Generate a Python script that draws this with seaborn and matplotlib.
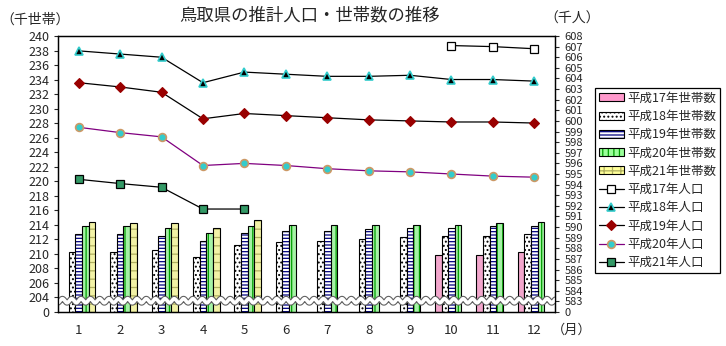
import numpy as np
import pandas as pd
import matplotlib
matplotlib.use("Agg")
import matplotlib.pyplot as plt
import matplotlib.patheffects as pe
from matplotlib.patches import Patch
from matplotlib.lines import Line2D
import seaborn as sns

# ---------------- data ----------------
months = [1, 2, 3, 4, 5, 6, 7, 8, 9, 10, 11, 12]
nan = np.nan
hh_labels = ["平成17年世帯数", "平成18年世帯数", "平成19年世帯数", "平成20年世帯数", "平成21年世帯数"]
hh17 = [nan, nan, nan, nan, nan, nan, nan, nan, nan, 209.8, 209.9, 210.2]
hh18 = [210.3, 210.3, 210.5, 209.6, 211.2, 211.7, 211.8, 212.1, 212.3, 212.4, 212.5, 212.7]
hh19 = [212.8, 212.7, 212.5, 211.8, 212.9, 213.1, 213.2, 213.4, 213.5, 213.5, 213.9, 213.9]
hh20 = [213.8, 213.8, 213.6, 212.9, 213.9, 214.0, 214.0, 214.0, 214.0, 214.0, 214.3, 214.45]
hh21 = [214.45, 214.3, 214.3, 213.6, 214.7, nan, nan, nan, nan, nan, nan, nan]

pop_labels = ["平成17年人口", "平成18年人口", "平成19年人口", "平成20年人口", "平成21年人口"]
pop17 = [nan, nan, nan, nan, nan, nan, nan, nan, nan, 607.1, 607.0, 606.8]
pop18 = [606.6, 606.3, 606.0, 603.6, 604.6, 604.4, 604.2, 604.2, 604.3, 603.9, 603.9, 603.75]
pop19 = [603.6, 603.2, 602.7, 600.2, 600.7, 600.5, 600.3, 600.1, 600.0, 599.9, 599.9, 599.8]
pop20 = [599.4, 598.9, 598.5, 595.8, 596.0, 595.8, 595.5, 595.3, 595.2, 595.0, 594.8, 594.7]
pop21 = [594.5, 594.1, 593.75, 591.7, 591.7, nan, nan, nan, nan, nan, nan, nan]

left_ticks = [204, 206, 208, 210, 212, 214, 216, 218, 220, 222, 224, 226, 228, 230, 232, 234, 236, 238, 240]
right_ticks = list(range(583, 609))

title = "鳥取県の推計人口・世帯数の推移"

# ---------------- style ----------------
sns.set_theme(style="ticks")
plt.rcParams["font.family"] = ["Noto Sans CJK JP", "DejaVu Sans"]
plt.rcParams["hatch.linewidth"] = 0.9

hh_face = ["#FF99CC", "#FFFFFF", "#FFFFFF", "#99FF99", "#FFFF99"]
hh_hatch = [None, "....", "-----", "|||", "++"]
hh_hcol = ["black", "black", "#000080", "#00A000", "#B0B060"]

fig = plt.figure(figsize=(7.26, 3.46), dpi=100)
ax = fig.add_axes([58 / 726, 1 - 312 / 346, 497 / 726, 276 / 346])

# bars
frames = []
for lab, vals in zip(hh_labels, [hh17, hh18, hh19, hh20, hh21]):
    frames.append(pd.DataFrame({"月": months, "系列": lab, "世帯数": vals}))
df = pd.concat(frames).dropna()
sns.barplot(data=df, x="月", y="世帯数", hue="系列", hue_order=hh_labels, order=months,
            palette=hh_face, width=0.8, edgecolor="black", linewidth=0.8,
            legend=False, ax=ax, zorder=2)
for cont, h, hc in zip(ax.containers, hh_hatch, hh_hcol):
    for p in cont.patches:
        if h:
            p.set_hatch(h)
            p._hatch_color = matplotlib.colors.to_rgba(hc)
            p.stale = True

ax.set_xlim(-0.5, 11.5)
ax.set_ylim(202, 240)
ax.set_yticks([202] + left_ticks)
ax.set_yticklabels(["0"] + [str(t) for t in left_ticks], fontsize=9)
ax.set_xticks(range(len(months)))
ax.set_xticklabels([str(m) for m in months], fontsize=9.5)
ax.tick_params(axis="x", length=0, pad=9)
ax.tick_params(axis="y", length=3, width=0.8, pad=3, direction="out")
ax.set_xlabel("")
ax.set_ylabel("")
for s in ax.spines.values():
    s.set_color("black")
    s.set_linewidth(0.9)

# break mark
xw = np.linspace(-0.5, 11.5, 1200)
yw = 203.55 + 0.28 * np.sin(2 * np.pi * xw / 0.225)
ax.plot(xw, yw, color="white", lw=2.6, zorder=6,
        path_effects=[pe.Stroke(linewidth=4.2, foreground="#606060"), pe.Normal()])

# lines
ax2 = ax.twinx()
pos = np.arange(len(months))
line_styles = [
    dict(color="black", marker="s", markersize=5.8, markerfacecolor="white", markeredgecolor="black", markeredgewidth=0.9),
    dict(color="black", marker="^", markersize=6.2, markerfacecolor="black", markeredgecolor="#33CCCC", markeredgewidth=1.2),
    dict(color="black", marker="D", markersize=5.2, markerfacecolor="#990000", markeredgecolor="#990000", markeredgewidth=0.8),
    dict(color="#800080", marker="o", markersize=5.6, markerfacecolor="#33CCCC", markeredgecolor="#CC9966", markeredgewidth=1.2),
    dict(color="black", marker="s", markersize=5.8, markerfacecolor="#339966", markeredgecolor="black", markeredgewidth=0.9),
]
for vals, st in zip([pop17, pop18, pop19, pop20, pop21], line_styles):
    d = pd.DataFrame({"pos": pos, "v": vals}).dropna()
    sns.lineplot(data=d, x="pos", y="v", ax=ax2, linewidth=0.9, legend=False, **st)

ax2.set_xlim(-0.5, 11.5)
ax2.set_ylim(582, 608)
ax2.set_yticks([582] + right_ticks)
ax2.set_yticklabels(["0"] + [str(t) for t in right_ticks], fontsize=8)
ax2.tick_params(axis="y", length=3, width=0.8, pad=4, direction="out")
ax2.set_ylabel("")
ax2.set_xlabel("")
for s in ax2.spines.values():
    s.set_color("black")
    s.set_linewidth(0.9)

# texts
fig.text(0.427, 0.955, title, ha="center", va="center", fontsize=12.5)
fig.text(0.048, 0.942, "（千世帯）", ha="center", va="center", fontsize=10)
fig.text(0.788, 0.945, "（千人）", ha="center", va="center", fontsize=10)
fig.text(0.787, 0.045, "（月）", ha="center", va="center", fontsize=9.5)

# legend
handles = []
for f, h, hc in zip(hh_face, hh_hatch, hh_hcol):
    p = Patch(facecolor=f, edgecolor="black", linewidth=0.8, hatch=h)
    if h:
        p._hatch_color = matplotlib.colors.to_rgba(hc)
    handles.append(p)
for st in line_styles:
    handles.append(Line2D([], [], linewidth=0.9, **st))
leg = fig.legend(handles, hh_labels + pop_labels, loc="upper left",
                 bbox_to_anchor=(595 / 726, 1 - 88 / 346), frameon=True, fancybox=False,
                 edgecolor="black", framealpha=1, fontsize=9, borderpad=0.3,
                 labelspacing=0.42, handlelength=2.0, handleheight=0.6,
                 handletextpad=0.3, borderaxespad=0)
leg.get_frame().set_linewidth(0.9)

fig.savefig("out.png", dpi=100, facecolor="white")
